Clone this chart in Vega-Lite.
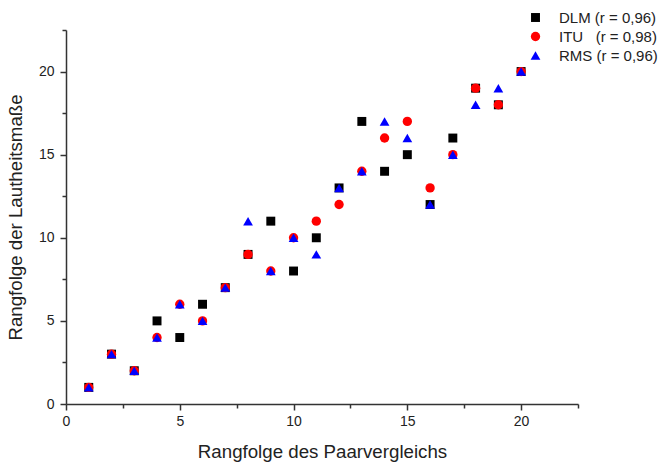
{
  "$schema": "https://vega.github.io/schema/vega-lite/v6.json",
  "width": 512,
  "height": 374,
  "autosize": {"type": "none"},
  "padding": {"left": 66, "top": 30, "right": 86, "bottom": 62},
  "background": "white",
  "config": {
    "view": {"stroke": null},
    "font": "Liberation Sans",
    "axis": {
      "domainColor": "#333333",
      "domainWidth": 1.5,
      "tickColor": "#333333",
      "tickWidth": 1.5,
      "grid": false,
      "labelFont": "Liberation Sans",
      "labelFontSize": 14,
      "labelColor": "#222222",
      "titleFont": "Liberation Sans",
      "titleFontSize": 18.7,
      "titleFontWeight": "normal",
      "titleColor": "#222222"
    },
    "legend": {
      "labelFont": "Liberation Sans",
      "labelFontSize": 15,
      "labelColor": "#222222"
    }
  },
  "data": {
    "values": [
      {"x": 1, "y": 1, "series": "DLM"},
      {"x": 2, "y": 3, "series": "DLM"},
      {"x": 3, "y": 2, "series": "DLM"},
      {"x": 4, "y": 5, "series": "DLM"},
      {"x": 5, "y": 4, "series": "DLM"},
      {"x": 6, "y": 6, "series": "DLM"},
      {"x": 7, "y": 7, "series": "DLM"},
      {"x": 8, "y": 9, "series": "DLM"},
      {"x": 9, "y": 11, "series": "DLM"},
      {"x": 10, "y": 8, "series": "DLM"},
      {"x": 11, "y": 10, "series": "DLM"},
      {"x": 12, "y": 13, "series": "DLM"},
      {"x": 13, "y": 17, "series": "DLM"},
      {"x": 14, "y": 14, "series": "DLM"},
      {"x": 15, "y": 15, "series": "DLM"},
      {"x": 16, "y": 12, "series": "DLM"},
      {"x": 17, "y": 16, "series": "DLM"},
      {"x": 18, "y": 19, "series": "DLM"},
      {"x": 19, "y": 18, "series": "DLM"},
      {"x": 20, "y": 20, "series": "DLM"},
      {"x": 1, "y": 1, "series": "ITU"},
      {"x": 2, "y": 3, "series": "ITU"},
      {"x": 3, "y": 2, "series": "ITU"},
      {"x": 4, "y": 4, "series": "ITU"},
      {"x": 5, "y": 6, "series": "ITU"},
      {"x": 6, "y": 5, "series": "ITU"},
      {"x": 7, "y": 7, "series": "ITU"},
      {"x": 8, "y": 9, "series": "ITU"},
      {"x": 9, "y": 8, "series": "ITU"},
      {"x": 10, "y": 10, "series": "ITU"},
      {"x": 11, "y": 11, "series": "ITU"},
      {"x": 12, "y": 12, "series": "ITU"},
      {"x": 13, "y": 14, "series": "ITU"},
      {"x": 14, "y": 16, "series": "ITU"},
      {"x": 15, "y": 17, "series": "ITU"},
      {"x": 16, "y": 13, "series": "ITU"},
      {"x": 17, "y": 15, "series": "ITU"},
      {"x": 18, "y": 19, "series": "ITU"},
      {"x": 19, "y": 18, "series": "ITU"},
      {"x": 20, "y": 20, "series": "ITU"},
      {"x": 1, "y": 1, "series": "RMS"},
      {"x": 2, "y": 3, "series": "RMS"},
      {"x": 3, "y": 2, "series": "RMS"},
      {"x": 4, "y": 4, "series": "RMS"},
      {"x": 5, "y": 6, "series": "RMS"},
      {"x": 6, "y": 5, "series": "RMS"},
      {"x": 7, "y": 7, "series": "RMS"},
      {"x": 8, "y": 11, "series": "RMS"},
      {"x": 9, "y": 8, "series": "RMS"},
      {"x": 10, "y": 10, "series": "RMS"},
      {"x": 11, "y": 9, "series": "RMS"},
      {"x": 12, "y": 13, "series": "RMS"},
      {"x": 13, "y": 14, "series": "RMS"},
      {"x": 14, "y": 17, "series": "RMS"},
      {"x": 15, "y": 16, "series": "RMS"},
      {"x": 16, "y": 12, "series": "RMS"},
      {"x": 17, "y": 15, "series": "RMS"},
      {"x": 18, "y": 18, "series": "RMS"},
      {"x": 19, "y": 19, "series": "RMS"},
      {"x": 20, "y": 20, "series": "RMS"}
    ]
  },
  "mark": {"type": "point", "filled": true, "opacity": 1},
  "encoding": {
    "x": {
      "field": "x",
      "type": "quantitative",
      "scale": {"domain": [0, 22.5], "nice": false, "zero": false},
      "axis": {
        "title": "Rangfolge des Paarvergleichs",
        "values": [0, 2.5, 5, 7.5, 10, 12.5, 15, 17.5, 20, 22.5],
        "labelExpr": "datum.value % 5 === 0 ? datum.label : ''",
        "tickSize": {"condition": {"test": "datum.value % 5 === 0", "value": 6}, "value": 4},
        "labelPadding": 4,
        "labelFlush": false,
        "titlePadding": 14
      }
    },
    "y": {
      "field": "y",
      "type": "quantitative",
      "scale": {"domain": [0, 22.5], "nice": false, "zero": false},
      "axis": {
        "title": "Rangfolge der Lautheitsmaße",
        "values": [0, 2.5, 5, 7.5, 10, 12.5, 15, 17.5, 20, 22.5],
        "labelExpr": "datum.value % 5 === 0 ? datum.label : ''",
        "tickSize": {"condition": {"test": "datum.value % 5 === 0", "value": 6}, "value": 4},
        "labelPadding": 6,
        "labelFlush": false,
        "titlePadding": 13
      }
    },
    "color": {
      "field": "series",
      "type": "nominal",
      "scale": {"domain": ["DLM", "ITU", "RMS"], "range": ["#000000", "#ff0000", "#0000ff"]},
      "legend": {
        "title": null,
        "orient": "none",
        "legendX": 462,
        "legendY": -20,
        "labelExpr": "datum.label === 'DLM' ? 'DLM (r = 0,96)' : datum.label === 'ITU' ? 'ITU\u00a0\u00a0\u00a0(r = 0,98)' : 'RMS (r = 0,96)'",
        "rowPadding": 3,
        "labelOffset": 16
      }
    },
    "shape": {
      "field": "series",
      "type": "nominal",
      "scale": {"domain": ["DLM", "ITU", "RMS"], "range": ["square", "circle", "triangle-up"]}
    },
    "size": {
      "field": "series",
      "type": "nominal",
      "scale": {"domain": ["DLM", "ITU", "RMS"], "range": [80, 95, 140]}
    },
    "order": {"field": "series", "sort": "ascending"}
  }
}
